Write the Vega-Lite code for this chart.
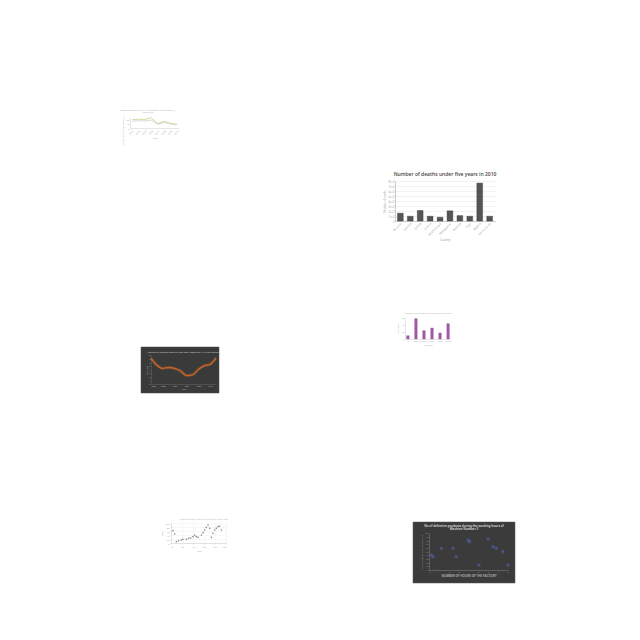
{
  "$schema": "https://vega.github.io/schema/vega-lite/v6.json",
  "padding": 0,
  "background": "white",
  "spacing": 0,
  "bounds": "flush",
  "config": {
    "view": {"stroke": null},
    "font": "Open Sans",
    "concat": {"spacing": 0},
    "axis": {"labelFontSize": 2.5, "titleFontSize": 2.5, "tickSize": 1, "labelPadding": 1, "titlePadding": 1.5, "titleFontWeight": "normal", "labelColor": "#aaa", "titleColor": "#aaa", "domainColor": "#ccc", "tickColor": "#ccc", "domainWidth": 0.5, "tickWidth": 0.5, "gridWidth": 0.4, "gridColor": "#ececec"},
    "title": {"fontWeight": "normal"}
  },
  "hconcat": [
    {
      "spacing": 0,
      "bounds": "flush",
      "vconcat": [
        {"width": 1, "height": 117, "data": {"values": [{"a": 0}]}, "mark": {"type": "point", "opacity": 0}, "encoding": {}},
        {
          "spacing": 0,
          "bounds": "flush",
          "hconcat": [
            {"width": 127, "height": 1, "data": {"values": [{"a": 0}]}, "mark": {"type": "point", "opacity": 0}, "encoding": {}},
            {
              "width": 49,
              "height": 11,
              "title": {"text": ["Gross enrolment ratio in secondary education (%)", "1999-2010"], "fontSize": 2.4, "color": "#aaa", "offset": 1.5, "frame": "group", "dx": -7, "lineHeight": 2.6},
              "data": {"values": [
                {"year": "2003", "series": "A", "value": 75},
                {"year": "2004", "series": "A", "value": 80},
                {"year": "2005", "series": "A", "value": 78},
                {"year": "2006", "series": "A", "value": 94},
                {"year": "2007", "series": "A", "value": 39},
                {"year": "2008", "series": "A", "value": 61},
                {"year": "2009", "series": "A", "value": 42},
                {"year": "2010", "series": "A", "value": 33},
                {"year": "2003", "series": "B", "value": 62},
                {"year": "2004", "series": "B", "value": 66},
                {"year": "2005", "series": "B", "value": 64},
                {"year": "2006", "series": "B", "value": 72},
                {"year": "2007", "series": "B", "value": 34},
                {"year": "2008", "series": "B", "value": 50},
                {"year": "2009", "series": "B", "value": 36},
                {"year": "2010", "series": "B", "value": 30}
              ]},
              "mark": {"type": "line", "strokeWidth": 0.8},
              "encoding": {
                "x": {"field": "year", "type": "ordinal", "scale": {"type": "point", "padding": 0.3}, "axis": {"labelAngle": -45, "title": "Year", "ticks": false}},
                "y": {"field": "value", "type": "quantitative", "scale": {"domain": [0, 100]}, "axis": {"title": "Gross enrolment ratio (%)", "titleY": 13, "tickCount": 4, "grid": false, "ticks": false}},
                "color": {"field": "series", "type": "nominal", "scale": {"range": ["#d2cb8c", "#ccd2c4"]}, "legend": null}
              }
            }
          ]
        },
        {"width": 1, "height": 230, "data": {"values": [{"a": 0}]}, "mark": {"type": "point", "opacity": 0}, "encoding": {}},
        {
          "spacing": 0,
          "bounds": "flush",
          "hconcat": [
            {"width": 138, "height": 1, "data": {"values": [{"a": 0}]}, "mark": {"type": "point", "opacity": 0}, "encoding": {}},
            {
              "width": 78,
              "height": 46,
              "view": {"fill": "#3a3a3a", "stroke": "#4a4a4a", "strokeWidth": 0.5},
              "title": {"text": "Percent of people aged 65 and over (2000-2011) in the region", "fontSize": 2.5, "color": "#ddd", "offset": 0, "frame": "group", "dy": 6, "dx": 3},
              "data": {"values": [
                {"year": 2000, "pct": 7.1},
                {"year": 2001, "pct": 5.2},
                {"year": 2002, "pct": 4.3},
                {"year": 2003, "pct": 4.55},
                {"year": 2004, "pct": 4.3},
                {"year": 2005, "pct": 3.6},
                {"year": 2006, "pct": 2.35},
                {"year": 2007, "pct": 2.5},
                {"year": 2008, "pct": 4.0},
                {"year": 2009, "pct": 5.0},
                {"year": 2010, "pct": 5.4},
                {"year": 2011, "pct": 7.2}
              ]},
              "encoding": {
                "x": {"field": "year", "type": "quantitative", "scale": {"domain": [2000, 2011], "range": [10, 75]}, "axis": {"offset": -9, "format": "d", "values": [2000, 2001, 2002, 2003, 2004, 2005, 2006, 2007, 2008, 2009, 2010, 2011], "labelColor": "#bbb", "titleColor": "#bbb", "title": "Year", "domainColor": "#666", "ticks": false, "grid": false, "labelFontSize": 2, "titlePadding": 0.5}},
                "y": {"field": "pct", "type": "quantitative", "scale": {"domain": [0, 8], "range": [37, 8]}, "axis": {"offset": -10, "values": [0, 1, 2, 3, 4, 5, 6, 7, 8], "labelColor": "#bbb", "titleColor": "#bbb", "title": "Percent", "domainColor": "#666", "ticks": false, "grid": false, "labelFontSize": 2, "titlePadding": 0.5}}
              },
              "layer": [
                {"mark": {"type": "line", "color": "#b8672e", "strokeWidth": 3.2, "opacity": 0.3, "interpolate": "monotone"}},
                {"mark": {"type": "line", "color": "#c8652a", "strokeWidth": 1.3, "interpolate": "monotone"}}
              ]
            }
          ]
        },
        {"width": 1, "height": 176, "data": {"values": [{"a": 0}]}, "mark": {"type": "point", "opacity": 0}, "encoding": {}},
        {
          "spacing": 0,
          "bounds": "flush",
          "hconcat": [
            {"width": 168, "height": 1, "data": {"values": [{"a": 0}]}, "mark": {"type": "point", "opacity": 0}, "encoding": {}},
            {
              "width": 55,
              "height": 20,
              "title": {"text": "Annual growth rate of the index over time", "fontSize": 2.5, "color": "#aaa", "offset": 2, "frame": "group", "dx": 5},
              "data": {"values": [
                {"x": 3.6, "y": 61.7}, {"x": 6.7, "y": 45}, {"x": 9.7, "y": 6.7}, {"x": 13.9, "y": 11.7},
                {"x": 18.8, "y": 15}, {"x": 21.8, "y": 18.3}, {"x": 27.9, "y": 18.3}, {"x": 32.1, "y": 23.3},
                {"x": 35.8, "y": 25}, {"x": 40, "y": 31.7}, {"x": 43, "y": 40}, {"x": 46, "y": 31.7},
                {"x": 49.1, "y": 28.3}, {"x": 55.2, "y": 40}, {"x": 58.2, "y": 51.7}, {"x": 61.2, "y": 65},
                {"x": 64.2, "y": 78.3}, {"x": 67.3, "y": 90}, {"x": 70.3, "y": 73.3}, {"x": 73.3, "y": 28.3},
                {"x": 76.4, "y": 48.3}, {"x": 79.4, "y": 65}, {"x": 82.4, "y": 73.3}, {"x": 85.5, "y": 81.7},
                {"x": 88.5, "y": 85}, {"x": 91.5, "y": 65}
              ]},
              "mark": {"type": "circle", "size": 2.5, "color": "#777", "opacity": 0.9},
              "encoding": {
                "x": {"field": "x", "type": "quantitative", "scale": {"domain": [0, 100]}, "axis": {"values": [0, 20, 40, 60, 80, 100], "title": "Year", "grid": true}},
                "y": {"field": "y", "type": "quantitative", "scale": {"domain": [0, 100]}, "axis": {"values": [0, 20, 40, 60, 80, 100], "title": "Rate", "grid": true}}
              }
            }
          ]
        }
      ]
    },
    {
      "spacing": 0,
      "bounds": "flush",
      "vconcat": [
        {"width": 1, "height": 181, "data": {"values": [{"a": 0}]}, "mark": {"type": "point", "opacity": 0}, "encoding": {}},
        {
          "spacing": 0,
          "bounds": "flush",
          "hconcat": [
            {"width": 392, "height": 1, "data": {"values": [{"a": 0}]}, "mark": {"type": "point", "opacity": 0}, "encoding": {}},
            {
              "width": 100,
              "height": 40,
              "title": {"text": "Number of deaths under five years in 2010", "fontSize": 5, "color": "#444", "fontWeight": 600, "offset": 3, "frame": "group"},
              "data": {"values": [
                {"country": "Burundi", "deaths": 1560},
                {"country": "Gambia", "deaths": 950},
                {"country": "Ghana", "deaths": 2100},
                {"country": "Liberia", "deaths": 950},
                {"country": "Mozambique", "deaths": 750},
                {"country": "Madagascar", "deaths": 2030},
                {"country": "Rwanda", "deaths": 1080},
                {"country": "Togo", "deaths": 950},
                {"country": "Nigeria", "deaths": 7580},
                {"country": "Sierra Leone", "deaths": 950}
              ]},
              "mark": {"type": "bar", "color": "#555", "stroke": "#333", "strokeWidth": 0.4},
              "encoding": {
                "x": {"field": "country", "type": "nominal", "sort": null, "scale": {"paddingInner": 0.42, "paddingOuter": 0.25}, "axis": {"labelAngle": -45, "labelFontSize": 2.8, "labelColor": "#999", "title": "Country", "titleFontSize": 2.8, "titleColor": "#999", "titlePadding": 2, "domainColor": "#999", "ticks": false}},
                "y": {"field": "deaths", "type": "quantitative", "scale": {"domain": [0, 8000]}, "axis": {"values": [0, 1000, 2000, 3000, 4000, 5000, 6000, 7000, 8000], "format": ",", "labelFontSize": 2.6, "labelColor": "#999", "title": "Number of deaths", "titleFontSize": 2.6, "titleColor": "#999", "titlePadding": 2, "domainColor": "#999", "ticks": false, "grid": true, "gridColor": "#e4e4e4", "gridWidth": 0.5}}
              }
            }
          ]
        },
        {"width": 1, "height": 136, "data": {"values": [{"a": 0}]}, "mark": {"type": "point", "opacity": 0}, "encoding": {}},
        {
          "spacing": 0,
          "bounds": "flush",
          "hconcat": [
            {"width": 402, "height": 1, "data": {"values": [{"a": 0}]}, "mark": {"type": "point", "opacity": 0}, "encoding": {}},
            {
              "width": 46,
              "height": 22,
              "title": {"text": "Number of students enrolled per course", "fontSize": 2.5, "color": "#aaa", "offset": 2, "frame": "group"},
              "data": {"values": [
                {"course": "Art", "n": 9},
                {"course": "Biology", "n": 55.5},
                {"course": "Chemistry", "n": 22.7},
                {"course": "History", "n": 30},
                {"course": "Music", "n": 16.4},
                {"course": "Physics", "n": 41.8}
              ]},
              "mark": {"type": "bar", "color": "#a35bab", "stroke": "#7d3d86", "strokeWidth": 0.3},
              "encoding": {
                "x": {"field": "course", "type": "nominal", "sort": null, "scale": {"paddingInner": 0.68, "paddingOuter": 0.2}, "axis": {"labelAngle": 0, "labelFontSize": 1.8, "title": "Course", "ticks": false}},
                "y": {"field": "n", "type": "quantitative", "scale": {"domain": [0, 60]}, "axis": {"values": [0, 20, 40, 60], "title": "Students", "ticks": false, "grid": false}}
              }
            }
          ]
        },
        {"width": 1, "height": 205, "data": {"values": [{"a": 0}]}, "mark": {"type": "point", "opacity": 0}, "encoding": {}},
        {
          "spacing": 0,
          "bounds": "flush",
          "hconcat": [
            {"width": 410, "height": 1, "data": {"values": [{"a": 0}]}, "mark": {"type": "point", "opacity": 0}, "encoding": {}},
            {
              "width": 102,
              "height": 61,
              "view": {"fill": "#3b3b3b", "stroke": "#555", "strokeWidth": 0.5},
              "title": {"text": ["No of defective products during the working hours of", "Machine Number 3"], "fontSize": 3, "color": "#ccc", "fontWeight": "bold", "offset": 0, "frame": "group", "dy": 9, "lineHeight": 3.5},
              "data": {"values": [
                {"h": 0.23, "n": 40.5}, {"h": 0.4, "n": 36}, {"h": 1.25, "n": 58.6}, {"h": 2.43, "n": 58.6},
                {"h": 2.76, "n": 36}, {"h": 3.95, "n": 81}, {"h": 4.12, "n": 76.5}, {"h": 5.06, "n": 13.5},
                {"h": 6.0, "n": 83.8}, {"h": 6.48, "n": 63}, {"h": 6.81, "n": 58.6}, {"h": 7.49, "n": 49.5},
                {"h": 8.0, "n": 13.5}
              ]},
              "encoding": {
                "x": {"field": "h", "type": "quantitative", "scale": {"domain": [0, 8], "range": [16, 95]}, "axis": {"offset": -13, "values": [0, 1, 2, 3, 4, 5, 6, 7, 8], "labelColor": "#999", "titleColor": "#aaa", "title": "NUMBER OF HOURS OF THE FACTORY", "titleFontSize": 3, "titleFontWeight": "bold", "domainColor": "#888", "ticks": false, "grid": false, "labelFontSize": 2.2, "titlePadding": 1}},
                "y": {"field": "n", "type": "quantitative", "scale": {"domain": [0, 100], "range": [48, 11]}, "axis": {"offset": -16, "values": [0, 10, 20, 30, 40, 50, 60, 70, 80, 90, 100], "labelColor": "#999", "titleColor": "#999", "title": "NO OF DEFECTIVE PRODUCTS", "domainColor": "#888", "ticks": false, "grid": false, "labelFontSize": 2.2, "titlePadding": 1}}
              },
              "layer": [
                {"mark": {"type": "circle", "size": 22, "color": "#4a5c9e", "opacity": 0.2}},
                {"mark": {"type": "circle", "size": 7, "color": "#5566a8", "opacity": 0.6}}
              ]
            }
          ]
        }
      ]
    }
  ]
}
